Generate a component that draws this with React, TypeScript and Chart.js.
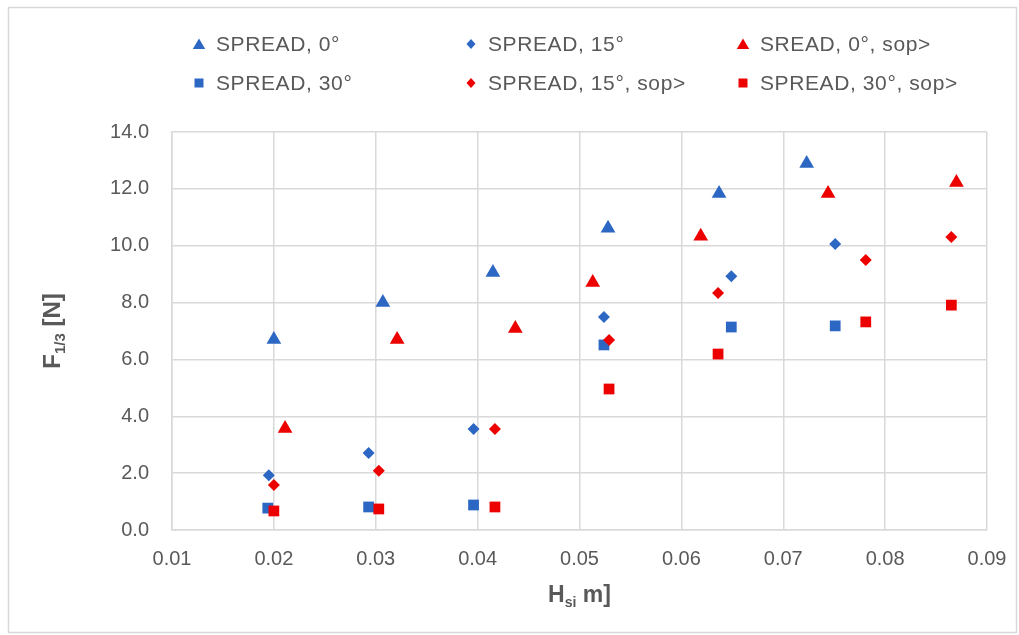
import React, { useEffect, useRef } from 'react';
import { Chart, registerables } from 'chart.js';

Chart.register(...registerables);

// ---- data ----
const SERIES_LABELS = ['SPREAD, 0°', 'SPREAD, 15°', 'SREAD, 0°, sop>', 'SPREAD, 30°', 'SPREAD, 15°, sop>', 'SPREAD, 30°, sop>'];

const spread0X = [0.0200, 0.0307, 0.0415, 0.0528, 0.0637, 0.0723];
const spread0Y = [6.70, 8.00, 9.06, 10.61, 11.84, 12.89];

const spread15X = [0.0195, 0.0293, 0.0396, 0.0524, 0.0649, 0.0751];
const spread15Y = [1.93, 2.71, 3.55, 7.49, 8.93, 10.06];

const sop0X = [0.0211, 0.0321, 0.0437, 0.0513, 0.0619, 0.0744, 0.0870];
const sop0Y = [3.57, 6.70, 7.09, 8.71, 10.33, 11.84, 12.22];

const spread30X = [0.0194, 0.0293, 0.0396, 0.0524, 0.0649, 0.0751];
const spread30Y = [0.77, 0.81, 0.88, 6.51, 7.14, 7.18];

const sop15X = [0.0200, 0.0303, 0.0417, 0.0529, 0.0636, 0.0781, 0.0865];
const sop15Y = [1.58, 2.08, 3.55, 6.68, 8.34, 9.50, 10.31];

const sop30X = [0.0200, 0.0303, 0.0417, 0.0529, 0.0636, 0.0781, 0.0865];
const sop30Y = [0.67, 0.74, 0.81, 4.96, 6.19, 7.32, 7.91];

const X_TICKS = [0.01, 0.02, 0.03, 0.04, 0.05, 0.06, 0.07, 0.08, 0.09];
const Y_TICKS = [0, 2, 4, 6, 8, 10, 12, 14];

// ---- styles ----
const BLUE = '#2c67c4';
const RED = '#ec0000';
const TEXT = '#595959';
const GRID = '#d9d9d9';
const FONT = "'Liberation Sans', Arial, sans-serif";

const pts = (xs: number[], ys: number[]) => xs.map((x, i) => ({ x, y: ys[i] }));

function drawMarker(ctx: CanvasRenderingContext2D, style: string, x: number, y: number, color: string) {
  ctx.save();
  ctx.fillStyle = color;
  ctx.beginPath();
  if (style === 'triangle') {
    ctx.moveTo(x, y - 5.5);
    ctx.lineTo(x + 6.2, y + 5);
    ctx.lineTo(x - 6.2, y + 5);
  } else if (style === 'rectRot') {
    ctx.moveTo(x, y - 5);
    ctx.lineTo(x + 4.5, y);
    ctx.lineTo(x, y + 5);
    ctx.lineTo(x - 4.5, y);
  } else {
    ctx.rect(x - 4.5, y - 4.5, 9, 9);
  }
  ctx.closePath();
  ctx.fill();
  ctx.restore();
}

function drawSubText(
  ctx: CanvasRenderingContext2D,
  parts: { t: string; sub?: boolean }[],
  cx: number,
  cy: number,
  rotate: boolean,
  bigSize: number,
  smallSize: number
) {
  ctx.save();
  ctx.translate(cx, cy);
  if (rotate) ctx.rotate(-Math.PI / 2);
  ctx.fillStyle = TEXT;
  ctx.textBaseline = 'alphabetic';
  ctx.textAlign = 'left';
  const big = `bold ${bigSize}px ${FONT}`;
  const small = `bold ${smallSize}px ${FONT}`;
  let total = 0;
  for (const p of parts) {
    ctx.font = p.sub ? small : big;
    total += ctx.measureText(p.t).width;
  }
  let x = -total / 2;
  const base = bigSize * 0.36;
  for (const p of parts) {
    ctx.font = p.sub ? small : big;
    ctx.fillText(p.t, x, p.sub ? base + 5 : base);
    x += ctx.measureText(p.t).width;
  }
  ctx.restore();
}

const decorPlugin = {
  id: 'decor',
  afterDraw(chart: any) {
    const ctx: CanvasRenderingContext2D = chart.ctx;
    // outer chart border
    ctx.save();
    ctx.strokeStyle = GRID;
    ctx.lineWidth = 1.5;
    ctx.strokeRect(8.5, 7.5, 1008, 625);
    ctx.restore();

    // legend grid (3 columns x 2 rows)
    const colText = [216, 488, 760];
    const rowY = [44, 83];
    chart.data.datasets.forEach((ds: any, i: number) => {
      const col = i % 3;
      const row = Math.floor(i / 3);
      const y = rowY[row];
      drawMarker(ctx, ds.pointStyle, colText[col] - 17, y, ds.backgroundColor);
      ctx.save();
      ctx.font = `21px ${FONT}`;
      (ctx as any).letterSpacing = '0.6px';
      ctx.fillStyle = TEXT;
      ctx.textBaseline = 'middle';
      ctx.textAlign = 'left';
      ctx.fillText(ds.label, colText[col], y + 1);
      ctx.restore();
    });

    // axis titles with subscripts
    const area = chart.chartArea;
    drawSubText(ctx, [{ t: 'F' }, { t: '1/3', sub: true }, { t: ' [N]' }], 51, (area.top + area.bottom) / 2, true, 24, 15);
    drawSubText(ctx, [{ t: 'H' }, { t: 'si', sub: true }, { t: ' m]' }], (area.left + area.right) / 2, 594, false, 23, 14);
  },
};

export default function App() {
  const ref = useRef<HTMLCanvasElement | null>(null);

  useEffect(() => {
    if (!ref.current) return;
    const mk = (label: string, xs: number[], ys: number[], color: string, style: string, radius: number, order: number) => ({
      label,
      data: pts(xs, ys),
      backgroundColor: color,
      borderColor: color,
      borderWidth: 0,
      pointStyle: style,
      pointRadius: radius,
      pointHoverRadius: radius,
      order,
    });
    const chart = new Chart(ref.current, {
      type: 'scatter',
      data: {
        datasets: [
          mk(SERIES_LABELS[0], spread0X, spread0Y, BLUE, 'triangle', 8.5, 2),
          mk(SERIES_LABELS[1], spread15X, spread15Y, BLUE, 'rectRot', 6, 2),
          mk(SERIES_LABELS[2], sop0X, sop0Y, RED, 'triangle', 8.5, 1),
          mk(SERIES_LABELS[3], spread30X, spread30Y, BLUE, 'rect', 7.6, 2),
          mk(SERIES_LABELS[4], sop15X, sop15Y, RED, 'rectRot', 6, 1),
          mk(SERIES_LABELS[5], sop30X, sop30Y, RED, 'rect', 7.6, 1),
        ] as any,
      },
      options: {
        animation: false,
        responsive: false,
        devicePixelRatio: 1,
        layout: { padding: { left: 0, right: 32, top: 132, bottom: 0 } },
        plugins: {
          legend: { display: false },
          tooltip: { enabled: false },
        },
        scales: {
          x: {
            type: 'linear',
            min: 0.01,
            max: 0.09,
            afterBuildTicks: (s: any) => {
              s.ticks = X_TICKS.map((v) => ({ value: v }));
            },
            afterFit: (s: any) => {
              s.height = 105;
              s.paddingLeft = 0;
              s.paddingRight = 0;
            },
            ticks: {
              color: TEXT,
              font: { family: FONT, size: 20 },
              padding: 17,
              maxRotation: 0,
              autoSkip: false,
              callback: (v: any) => Number(v).toFixed(2),
            },
            grid: { color: GRID, lineWidth: 1.5, drawTicks: false },
            border: { color: GRID, width: 1.5 },
          },
          y: {
            type: 'linear',
            min: 0,
            max: 14,
            afterBuildTicks: (s: any) => {
              s.ticks = Y_TICKS.map((v) => ({ value: v }));
            },
            afterFit: (s: any) => {
              s.width = 172;
              s.paddingTop = 0;
              s.paddingBottom = 0;
            },
            ticks: {
              color: TEXT,
              font: { family: FONT, size: 20 },
              padding: 23,
              autoSkip: false,
              callback: (v: any) => Number(v).toFixed(1),
            },
            grid: { color: GRID, lineWidth: 1.5, drawTicks: false },
            border: { color: GRID, width: 1.5 },
          },
        },
      } as any,
      plugins: [decorPlugin],
    });
    return () => chart.destroy();
  }, []);

  return (
    <div style={{ position: 'fixed', left: 0, top: 0, width: 1019, height: 635, background: '#fff' }}>
      <canvas ref={ref} width={1019} height={635} style={{ display: 'block' }} />
    </div>
  );
}
